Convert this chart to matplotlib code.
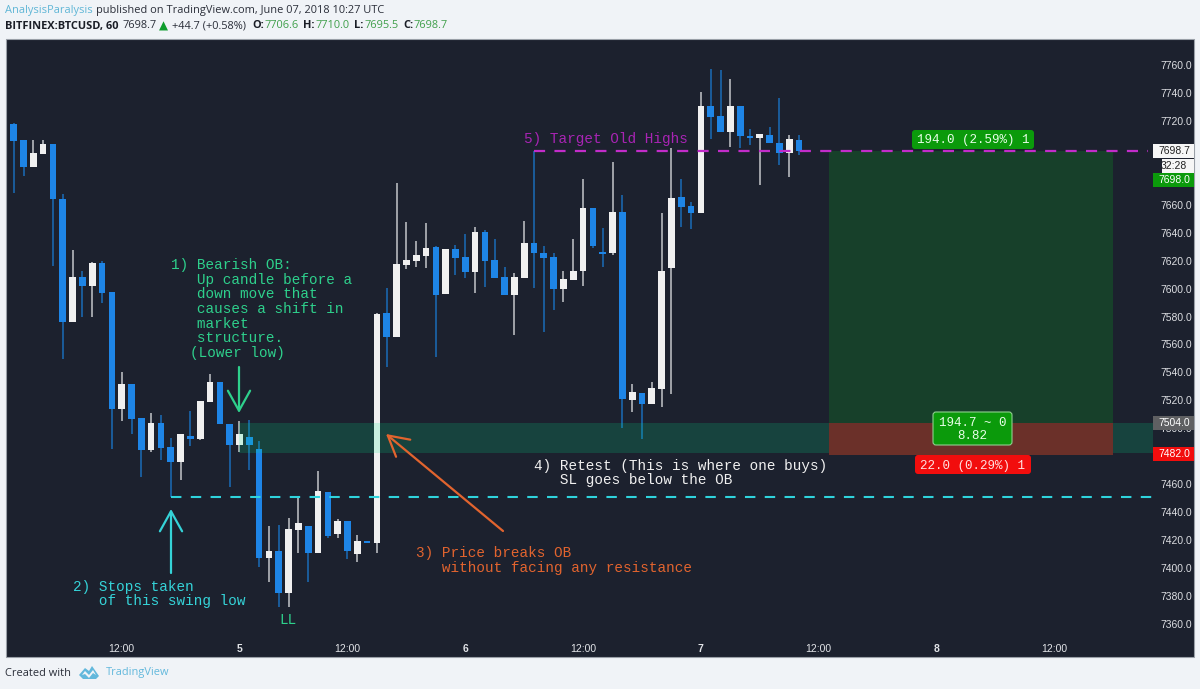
import matplotlib
matplotlib.use("Agg")
import matplotlib.pyplot as plt
from matplotlib.patches import Rectangle, FancyBboxPatch, FancyArrowPatch, Polygon
from matplotlib.transforms import Affine2D

# ---------- data ----------
opens = [7717.6,7706.3,7686.8,7696.3,7703.5,7664.0,7575.9,7608.3,7602.1,7618.1,
         7597.6,7513.8,7531.5,7507.2,7484.3,7503.8,7486.4,7475.9,7494.7,7492.4,
         7518.6,7533.4,7503.1,7488.1,7494.0,7485.0,7407.0,7412.2,7382.0,7427.5,
         7430.1,7411.0,7454.4,7424.4,7433.5,7409.9,7419.2,7417.7,7582.5,7565.6,
         7616.7,7620.0,7623.3,7630.0,7596.3,7628.3,7622.4,7611.9,7640.3,7620.5,
         7608.0,7595.5,7607.6,7632.8,7625.7,7622.6,7599.5,7605.9,7612.8,7657.7,
         7626.4,7625.7,7654.6,7520.5,7525.0,7517.4,7528.4,7615.0,7665.5,7659.1,
         7654.1,7730.7,7723.3,7712.3,7730.9,7709.0,7708.0,7710.1,7704.4,7697.0,7706.6]
highs = [7718.7,7706.3,7706.3,7706.3,7703.5,7667.7,7627.6,7612.8,7619.2,7620.0,
         7597.6,7540.3,7531.5,7507.2,7511.0,7509.5,7492.9,7495.7,7512.4,7519.3,
         7538.7,7533.4,7503.1,7505.2,7506.0,7491.2,7430.1,7430.8,7435.6,7450.6,
         7430.1,7469.7,7454.4,7435.1,7433.5,7423.7,7419.2,7582.8,7600.2,7675.8,
         7647.4,7634.1,7647.2,7630.5,7628.3,7631.2,7639.1,7643.9,7641.9,7635.5,
         7615.5,7611.0,7648.6,7698.7,7630.7,7625.7,7612.8,7635.5,7678.2,7657.7,
         7643.6,7690.4,7666.8,7531.5,7525.0,7533.2,7654.3,7700.4,7678.2,7662.0,
         7740.5,7757.1,7756.4,7750.0,7730.9,7714.0,7710.6,7715.6,7736.6,7709.7,7710.0]
lows = [7668.2,7680.8,7686.8,7696.3,7616.2,7549.6,7575.9,7579.9,7579.9,7589.9,
        7485.2,7505.2,7495.7,7465.4,7483.1,7477.3,7451.1,7463.0,7487.4,7491.7,
        7518.6,7502.9,7458.2,7483.3,7470.2,7401.0,7390.3,7371.9,7371.9,7410.6,
        7390.3,7411.0,7421.3,7421.7,7406.3,7404.6,7417.7,7411.0,7544.1,7565.6,
        7613.8,7615.7,7615.0,7550.8,7596.3,7609.7,7607.8,7596.6,7601.4,7607.8,
        7595.6,7566.8,7607.6,7600.2,7569.2,7584.7,7590.6,7605.9,7602.1,7629.3,
        7615.2,7624.0,7500.5,7511.7,7492.1,7517.4,7515.5,7524.6,7644.3,7642.4,
        7654.1,7707.3,7711.8,7701.3,7700.6,7702.8,7674.3,7704.0,7688.4,7680.1,7695.5]
closes = [7705.8,7686.8,7697.0,7703.5,7663.9,7575.9,7608.3,7602.1,7618.1,7597.1,
          7513.8,7531.5,7506.7,7484.3,7503.8,7485.9,7475.9,7495.7,7492.4,7519.3,
          7533.4,7502.9,7488.1,7496.2,7488.1,7407.0,7412.2,7382.0,7428.0,7432.0,
          7411.0,7455.2,7423.0,7433.5,7412.2,7419.4,7417.7,7581.6,7565.6,7617.4,
          7620.7,7623.8,7628.8,7595.6,7628.3,7621.9,7611.9,7640.3,7620.0,7607.8,
          7595.6,7608.3,7632.8,7625.3,7621.9,7599.5,7606.9,7612.8,7657.7,7630.3,
          7624.5,7654.6,7520.8,7525.8,7517.4,7528.9,7612.8,7664.8,7658.4,7653.9,
          7730.9,7722.8,7711.8,7730.9,7709.2,7708.0,7710.4,7704.0,7697.0,7707.0,7698.7]
price_ticks = [7760,7740,7720,7660,7640,7620,7600,7580,7560,7540,7520,7500,
               7460,7440,7420,7400,7380,7360]
time_ticks = [11,23,34,46,58,70,82,94,106]
time_labels = ["12:00","5","12:00","6","12:00","7","12:00","8","12:00"]
last_price = 7698.7
target_price = 7698.0
entry_price = 7504.0
stop_price = 7482.0
swing_low = 7451.0
old_high_start = 53
swing_low_start = 16
zone_start = 23
box_start = 83
box_end = 112

# ---------- style ----------
BG = "#f0f3f7"
DARK = "#1c212e"
BLUE = "#1e85e6"
BLUE_W = "#1a6cb8"
WHITE = "#f0f0f0"
WHITE_W = "#c4c6ca"
MONO = "Liberation Mono"
SANS = "Liberation Sans"
HEAD = "Open Sans"
W, H = 1200, 689

fig = plt.figure(figsize=(W/100, H/100), dpi=100, facecolor=BG)
px = Affine2D().scale(1, -1).translate(0, H)   # figure pixels, y downward

fig.add_artist(Rectangle((5.5, 39), 1188.5, 617.5, transform=px, fc=DARK, ec="#9aa0a8",
                         lw=0.8, zorder=-5))

ax = fig.add_axes([6/W, 1-636/H, (1153-6)/W, (636-40)/H])
ax.set_facecolor("none")
ax.set_xlim(-0.784, 116.05)
ax.set_ylim(7351.4, 7777.9)
for s in ax.spines.values():
    s.set_visible(False)

xs = list(range(len(opens)))
for i in xs:
    up = closes[i] >= opens[i]
    ax.vlines(i, lows[i], highs[i], color=WHITE_W if up else BLUE_W, lw=1.1, zorder=2)
    b = min(opens[i], closes[i])
    ax.bar(i, max(abs(closes[i]-opens[i]), 1.0), bottom=b, width=0.68,
           color=WHITE if up else BLUE, zorder=3)

# order block zone and position boxes
ax.axhspan(stop_price, entry_price, xmin=(zone_start+0.784)/116.834, xmax=1,
           fc=(0.0, 0.92, 0.57, 0.17), ec="none", zorder=4)
ax.add_patch(Rectangle((box_start, entry_price), box_end-box_start, last_price-entry_price,
                       fc="#17402a", ec="none", zorder=1))
ax.add_patch(Rectangle((box_start, stop_price-1), box_end-box_start, entry_price-stop_price+1,
                       fc="#6b3029", ec="none", zorder=5))

ax.plot([old_high_start, 115.5], [last_price]*2, color="#c22cc9", lw=1.6,
        dashes=(5, 4.2), zorder=6)
ax.plot([swing_low_start, 116], [swing_low]*2, color="#2fd3dc", lw=1.5,
        dashes=(5, 4.5), zorder=6)

ax.yaxis.tick_right()
ax.set_yticks(price_ticks)
ax.set_yticklabels([f"{v:.1f}" for v in price_ticks], fontsize=7.5, family=SANS, color="#dcdee2")
ax.tick_params(axis="y", length=0, pad=5)
ax.set_xticks(time_ticks)
ax.set_xticklabels(time_labels, fontsize=7.5, family=SANS, color="#e2e4e8")
ax.tick_params(axis="x", length=0, pad=6)
for lab, t in zip(ax.get_xticklabels(), time_labels):
    if ":" not in t:
        lab.set_fontweight("bold")

def T(x, y, s, color, size=10.4, family=MONO, ha="left", weight="normal", z=8):
    fig.text(x, y, s, transform=px, color=color, fontsize=size, family=family, ha=ha,
             va="center", fontweight=weight, zorder=z)

# annotations
green = "#2ed08c"
for k, s in enumerate(["1) Bearish OB:", "   Up candle before a", "   down move that",
                       "   causes a shift in", "   market", "   structure."]):
    T(171, 265.5+14.5*k, s, green)
T(190, 352.5, "(Lower low)", green)
T(288, 620, "LL", green, ha="center")
T(73, 587, "2) Stops taken", "#35d3d8")
T(73, 601, "   of this swing low", "#35d3d8")
T(416, 553, "3) Price breaks OB", "#e2642e")
T(416, 568, "   without facing any resistance", "#e2642e")
T(534, 466, "4) Retest (This is where one buys)", "#f0f0f0")
T(534, 480, "   SL goes below the OB", "#f0f0f0")
T(524, 139, "5) Target Old Highs", "#a824b4")

def arrow(a, b, c):
    fig.add_artist(FancyArrowPatch(a, b, transform=px, color=c, lw=1.6, shrinkA=0, shrinkB=0,
                                   arrowstyle="->,head_length=9,head_width=5",
                                   mutation_scale=1.6, zorder=7))
arrow((239, 367), (239, 413), green)
arrow((171, 573), (171, 509), "#35d3d8")
arrow((503, 531), (386, 434), "#e2642e")

# tags on the position box
def tag(x0, y0, x1, y1, fc, ec="none"):
    fig.add_artist(FancyBboxPatch((x0+2, y0+2), x1-x0-4, y1-y0-4, transform=px,
                                  boxstyle="round,pad=2,rounding_size=3", fc=fc, ec=ec,
                                  lw=0.8, zorder=7))
tag(912, 130, 1034, 149, "#0b9a0b")
T(973, 140, "194.0 (2.59%) 1", "#e8ffe8", size=9, ha="center")
tag(933, 412, 1012, 445, "#0b9a0b", "#8fd08f")
T(972.5, 423, "194.7 ~ 0", "#e8ffe8", size=9, ha="center")
T(972.5, 436, "8.82", "#e8ffe8", size=9, ha="center")
tag(915, 455, 1031, 474, "#f20d0d")
T(973, 465.5, "22.0 (0.29%) 1", "#ffe0e0", size=9, ha="center")

# price scale tags
def ptag(x0, y0, y1, fc, s, c):
    fig.add_artist(Rectangle((x0, y0), 1194-x0, y1-y0, transform=px, fc=fc, ec="none", zorder=7))
    T(1174, (y0+y1)/2+0.3, s, c, size=7.5, family=SANS, ha="center")
ptag(1153, 144, 158, "#f6f6f6", f"{last_price:.1f}", "#222222")
ptag(1162, 159, 173, "#f6f6f6", "32:28", "#222222")
ptag(1153, 173, 187, "#0b9a0b", f"{target_price:.1f}", "#ffffff")
ptag(1153, 416, 430, "#5f6062", f"{entry_price:.1f}", "#ffffff")
ptag(1153, 447, 461, "#f20d0d", f"{stop_price:.1f}", "#ffffff")

# header
hs = 7.95
T(5, 10, "AnalysisParalysis", "#5fb6d6", size=hs, family=HEAD)
T(96.5, 10, "published on TradingView.com, June 07, 2018 10:27 UTC", "#2a2e39", size=hs, family=HEAD)
T(5, 26, "BITFINEX:BTCUSD, 60", "#1a1d26", size=hs, family=HEAD, weight="bold")
T(122, 26, "7698.7", "#2a2e39", size=hs, family=HEAD)
T(159, 26, "\u25b2", "#0f9d2e", size=8.5, family="DejaVu Sans")
T(172, 26, "+44.7 (+0.58%)", "#2a2e39", size=hs, family=HEAD)
for xl, l, xv, v in [(252, "O:", 264, "7706.6"), (303, "H:", 315, "7710.0"),
                     (354, "L:", 364, "7695.5"), (403, "C:", 413, "7698.7")]:
    T(xl, 26, l, "#1a1d26", size=hs, family=HEAD, weight="bold")
    T(xv, 26, v, "#3f9f4a", size=hs, family=HEAD)

# footer
T(5, 673, "Created with", "#2a2e39", size=hs, family=HEAD)
T(106, 673, "TradingView", "#62b8dc", size=hs, family=HEAD)
fig.add_artist(Polygon([(79, 675), (85, 668), (89, 671), (92, 666), (99, 676), (96, 679),
                        (83, 679)],
                       transform=px, fc="#62b8dc", ec="none", zorder=8))
fig.add_artist(Polygon([(82, 675), (85, 671), (89, 675), (93, 670), (96, 675), (93, 673),
                        (89, 678), (85, 674)],
                       transform=px, fc="#f0f3f7", ec="none", zorder=9))

fig.savefig("out.png", dpi=100, facecolor=BG)
